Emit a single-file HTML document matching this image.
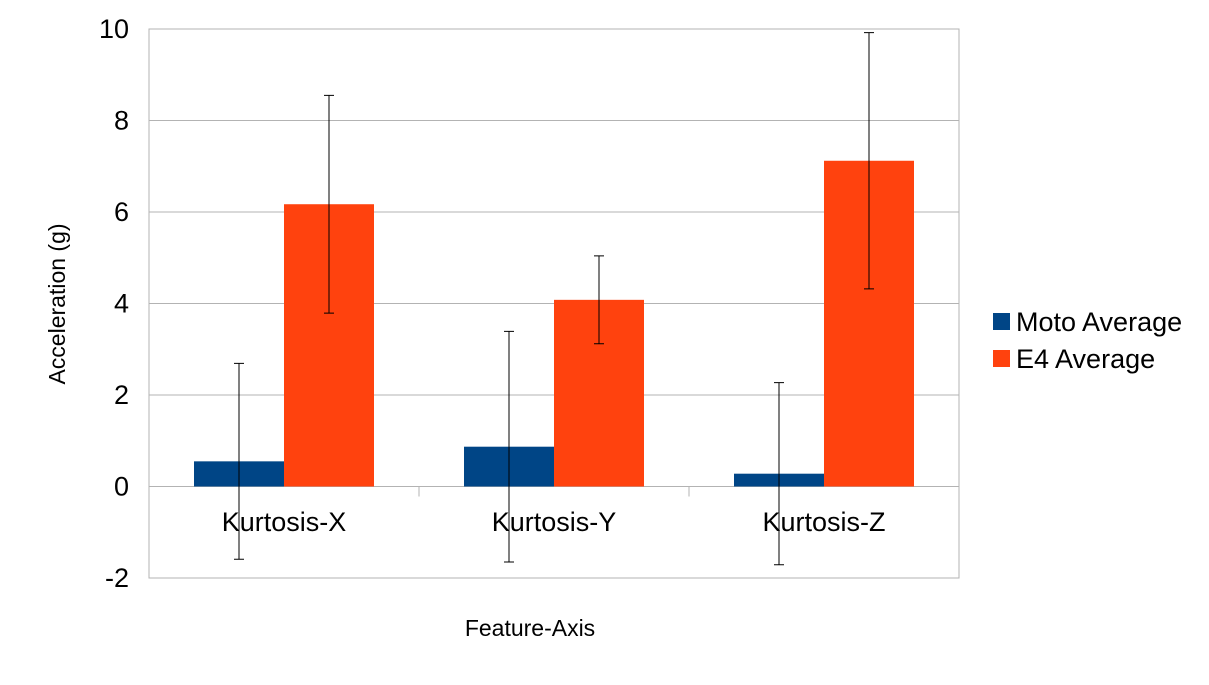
<!DOCTYPE html>
<html><head><meta charset="utf-8"><style>
html,body{margin:0;padding:0;background:#fff;}
svg text{font-family:"Liberation Sans",sans-serif;fill:#000;}
</style></head><body>
<svg id="chart" width="1209" height="680" xmlns="http://www.w3.org/2000/svg">
<g id="grid"></g>
<g id="bars"></g>
<g id="errs"></g>
<g id="axes"></g>
<text x="65" y="304" font-size="23" text-anchor="middle" transform="rotate(-90 65 304)">Acceleration (g)</text>
<text x="530" y="636" font-size="23" text-anchor="middle">Feature-Axis</text>
<g>
<g><rect x="993" y="313" width="17" height="17" fill="#004586"/><text x="1016" y="331" font-size="27">Moto Average</text></g>
<g><rect x="993" y="350" width="17" height="17" fill="#ff420e"/><text x="1016" y="368" font-size="27">E4 Average</text></g>
</g>
</svg>
<script>
const categories=["Kurtosis-X","Kurtosis-Y","Kurtosis-Z"];
const motoValues=[0.55,0.87,0.28];
const e4Values=[6.17,4.08,7.12];
const motoErr=[2.14,2.52,1.99];
const e4Err=[2.38,0.96,2.8];
const yTicks=[-2,0,2,4,6,8,10];
const L=149,R=959,T=29,B=578,ymin=-2,ymax=10;
const ns="http://www.w3.org/2000/svg";
const y=v=>T+(ymax-v)/(ymax-ymin)*(B-T);
const gw=(R-L)/categories.length;
function mk(p,tag,a){const e=document.createElementNS(ns,tag);for(const k in a)e.setAttribute(k,a[k]);document.getElementById(p).appendChild(e);return e;}
yTicks.forEach(t=>{
 const l=mk("grid","line",{x1:L,x2:R,y1:y(t),y2:y(t),stroke:"#b3b3b3","stroke-width":1});
 
 
 const tx=mk("axes","text",{x:129,y:y(t)+9,"font-size":27,"text-anchor":"end"});tx.textContent=t;
 
 
});
const fr=mk("axes","rect",{x:L,y:T,width:R-L,height:B-T,fill:"none",stroke:"#b3b3b3"});


for(let i=1;i<categories.length;i++){
 const tk=mk("axes","line",{x1:L+gw*i,x2:L+gw*i,y1:y(0),y2:y(0)+10,stroke:"#b3b3b3"});
 
 
}
const bw=gw/3;
categories.forEach((c,i)=>{
 const x0=L+gw*i;
 [[motoValues,motoErr,"#004586",x0+bw/2,"bar-moto"],[e4Values,e4Err,"#ff420e",x0+bw*1.5,"bar-e4"]].forEach(([vals,errs,col,bx,nm])=>{
  const v=vals[i];
  const r=mk("bars","rect",{x:bx,y:Math.min(y(v),y(0)),width:bw,height:Math.abs(y(v)-y(0)),fill:col});
  
  
  const cx=bx+bw/2,hi=y(v+errs[i]),lo=y(v-errs[i]);
  const g=mk("errs","path",{d:`M${cx},${hi}V${lo}M${cx-5},${hi}H${cx+5}M${cx-5},${lo}H${cx+5}`,stroke:"#000","stroke-width":1,fill:"none"});
  
  
 });
 const t=mk("axes","text",{x:x0+gw/2,y:531,"font-size":27,"text-anchor":"middle"});t.textContent=c;
 
 
});
</script>
</body></html>
